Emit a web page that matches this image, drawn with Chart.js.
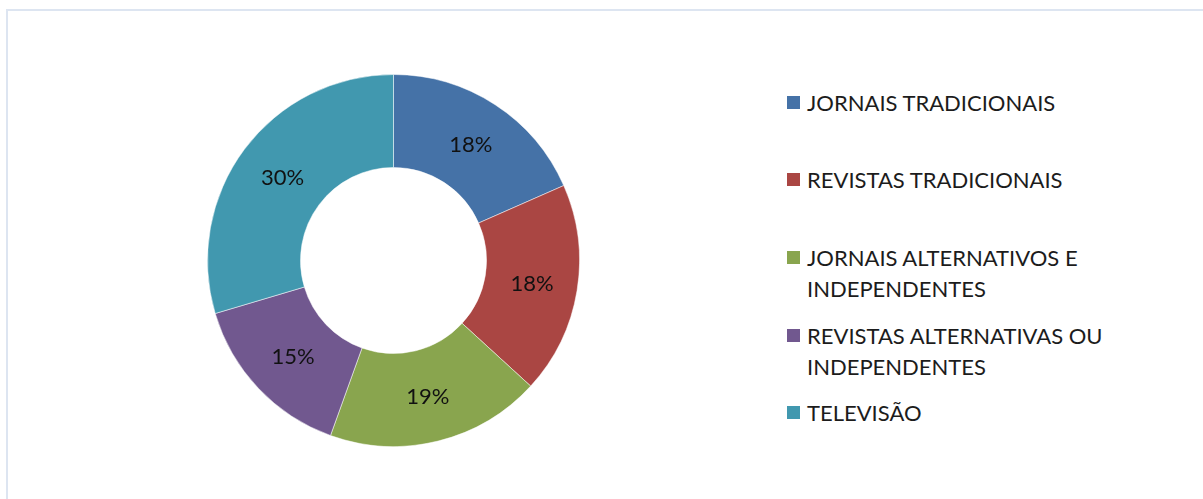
<!DOCTYPE html>
<html>
<head>
<meta charset="utf-8">
<script src="https://cdn.jsdelivr.net/npm/chart.js@4/dist/chart.umd.min.js"></script>
<style>
  html, body { margin: 0; padding: 0; background: #fff; overflow: hidden; }
  body { width: 1203px; height: 499px; position: relative; font-family: Lato, "Open Sans", sans-serif; }
  #frame {
    position: absolute; left: 6px; top: 9px; width: 1220px; height: 520px;
    border: 2px solid #dde5f1; box-sizing: border-box;
  }
  #wrap { position: absolute; left: 207px; top: 74px; width: 373px; height: 373px; }
  #legend { position: absolute; left: 787px; top: 0; margin: 0; padding: 0; list-style: none; }
  #legend li { position: absolute; left: 0; white-space: nowrap; color: #1c1c1c; font-size: 22px; line-height: 31px; }
  #legend .sw { position: absolute; left: 0; top: 9px; width: 13px; height: 13px; }
  #legend .txt { position: absolute; left: 20px; top: 0; }
</style>
</head>
<body>
<div id="frame"></div>
<div id="wrap"><canvas id="donut"></canvas></div>
<ul id="legend"></ul>

<script>
// ── Data ──────────────────────────────────────────────────────
const labels = [
  'JORNAIS TRADICIONAIS',
  'REVISTAS TRADICIONAIS',
  'JORNAIS ALTERNATIVOS E|INDEPENDENTES',
  'REVISTAS ALTERNATIVAS OU|INDEPENDENTES',
  'TELEVISÃO'
];
// shares (labels round them)
const values = [18.4, 18.4, 18.7, 14.9, 29.6];
const colors = ['#4572A7', '#AA4643', '#89A54E', '#71588F', '#4198AF'];

// legend entry tops (px)
const legendTops = [87, 164, 242, 320, 397];

// ── Slice labels plugin ───────────────────────────────────────
const sliceLabels = {
  id: 'sliceLabels',
  afterDatasetsDraw(chart) {
    const ctx = chart.ctx;
    const meta = chart.getDatasetMeta(0);
    const total = values.reduce((s, v) => s + v, 0);
    ctx.save();
    ctx.font = '22px Lato, "Open Sans", sans-serif';
    ctx.fillStyle = '#111';
    ctx.textAlign = 'center';
    ctx.textBaseline = 'middle';
    meta.data.forEach((arc, i) => {
      const p = arc.tooltipPosition();
      ctx.fillText(Math.round(values[i] / total * 100) + '%', p.x + 1, p.y + 1);
    });
    ctx.restore();
  }
};

// ── Chart ─────────────────────────────────────────────────────
new Chart(document.getElementById('donut'), {
  type: 'doughnut',
  data: {
    labels: labels.map(l => l.replace('|', ' ')),
    datasets: [{
      data: values,
      backgroundColor: colors,
      borderColor: 'rgba(255,255,255,0.5)',
      borderWidth: 1
    }]
  },
  options: {
    responsive: true,
    maintainAspectRatio: false,
    animation: false,
    cutout: '50%',
    layout: { padding: 0 },
    plugins: { legend: { display: false }, tooltip: { enabled: false } }
  },
  plugins: [sliceLabels]
});

// ── HTML legend ───────────────────────────────────────────────
const legendEl = document.getElementById('legend');
labels.forEach((l, i) => {
  const li = document.createElement('li');
  li.style.top = legendTops[i] + 'px';
  li.innerHTML = `<span class="sw" style="background:${colors[i]}"></span>` +
    `<span class="txt">${l.split('|').join('<br>')}</span>`;
  legendEl.appendChild(li);
});
</script>
</body>
</html>
